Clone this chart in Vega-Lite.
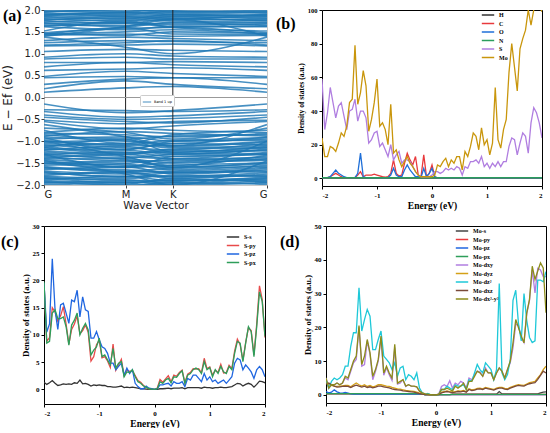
{
  "$schema": "https://vega.github.io/schema/vega-lite/v6.json",
  "padding": {"left": 0, "top": 4, "right": 2, "bottom": 0},
  "background": "white",
  "resolve": {"scale": {"color": "independent"}, "legend": {"color": "independent"}},
  "config": {
    "view": {"stroke": "black", "strokeWidth": 1},
    "axis": {
      "labelFont": "Liberation Serif", "labelFontWeight": "bold", "labelFontSize": 7, "labelColor": "black",
      "titleFont": "Liberation Serif", "titleFontWeight": "bold", "titleFontSize": 9.5, "titleColor": "black",
      "grid": false, "domain": false, "tickColor": "black", "tickSize": 3, "labelPadding": 2, "titlePadding": 2
    },
    "legend": {
      "orient": "none", "title": null, "symbolType": "M-1.6,0H1.6", "symbolStrokeWidth": 1.5, "symbolSize": 60,
      "labelFont": "Liberation Serif", "labelFontWeight": "bold", "labelFontSize": 6, "labelColor": "black",
      "labelOffset": 6, "rowPadding": 0.5, "padding": 0
    },
    "title": {"anchor": "start", "frame": "group", "font": "Liberation Serif", "fontWeight": "bold", "fontSize": 16, "color": "black"}
  },
  "datasets": {
    "kpath": [
      {"pt": "G", "k": 0}, {"pt": "M", "k": 0.577}, {"pt": "K", "k": 0.911}, {"pt": "G2", "k": 1.577}
    ],
    "bands": [
      {"b": 1, "G": 0.12, "M": 0.22, "K": 0.25, "G2": 0.12},
      {"b": 2, "G": 0.2, "M": 0.38, "K": 0.3, "G2": 0.2},
      {"b": 3, "G": 0.3, "M": 0.42, "K": 0.45, "G2": 0.3},
      {"b": 4, "G": 0.45, "M": 0.48, "K": 0.45, "G2": 0.45},
      {"b": 5, "G": 0.48, "M": 0.6, "K": 0.55, "G2": 0.48},
      {"b": 6, "G": 0.62, "M": 0.65, "K": 0.68, "G2": 0.62},
      {"b": 7, "G": 0.7, "M": 0.8, "K": 0.75, "G2": 0.7},
      {"b": 8, "G": 0.8, "M": 0.8, "K": 0.82, "G2": 0.8},
      {"b": 9, "G": 0.88, "M": 0.92, "K": 0.88, "G2": 0.88},
      {"b": 10, "G": 0.92, "M": 1.0, "K": 0.95, "G2": 0.92},
      {"b": 11, "G": 1.05, "M": 1.1, "K": 1.08, "G2": 1.05},
      {"b": 12, "G": 1.38, "M": 1.15, "K": 1.0, "G2": 1.38},
      {"b": 13, "G": 1.18, "M": 1.2, "K": 1.22, "G2": 1.18},
      {"b": 14, "G": 1.25, "M": 1.3, "K": 1.28, "G2": 1.25},
      {"b": 15, "G": 1.3, "M": 1.38, "K": 1.35, "G2": 1.3},
      {"b": 16, "G": 1.42, "M": 1.45, "K": 1.4, "G2": 1.42},
      {"b": 17, "G": 1.45, "M": 1.5, "K": 1.55, "G2": 1.45},
      {"b": 18, "G": 1.48, "M": 1.58, "K": 1.6, "G2": 1.48},
      {"b": 19, "G": 1.62, "M": 1.55, "K": 1.62, "G2": 1.62},
      {"b": 20, "G": 1.65, "M": 1.65, "K": 1.7, "G2": 1.65},
      {"b": 21, "G": 1.68, "M": 1.72, "K": 1.66, "G2": 1.68},
      {"b": 22, "G": 1.72, "M": 1.78, "K": 1.75, "G2": 1.72},
      {"b": 23, "G": 1.75, "M": 1.7, "K": 1.8, "G2": 1.75},
      {"b": 24, "G": 1.78, "M": 1.82, "K": 1.78, "G2": 1.78},
      {"b": 25, "G": 1.82, "M": 1.88, "K": 1.85, "G2": 1.82},
      {"b": 26, "G": 1.85, "M": 1.8, "K": 1.9, "G2": 1.85},
      {"b": 27, "G": 1.88, "M": 1.92, "K": 1.88, "G2": 1.88},
      {"b": 28, "G": 1.9, "M": 1.95, "K": 1.93, "G2": 1.9},
      {"b": 29, "G": 1.93, "M": 1.9, "K": 1.97, "G2": 1.93},
      {"b": 30, "G": 1.96, "M": 2.0, "K": 1.95, "G2": 1.96},
      {"b": 31, "G": 1.98, "M": 1.96, "K": 2.02, "G2": 1.98},
      {"b": 32, "G": 1.4, "M": 1.62, "K": 1.78, "G2": 1.4},
      {"b": 33, "G": 1.52, "M": 1.75, "K": 1.6, "G2": 1.52},
      {"b": 34, "G": -0.15, "M": -0.35, "K": -0.3, "G2": -0.15},
      {"b": 35, "G": -0.28, "M": -0.3, "K": -0.32, "G2": -0.28},
      {"b": 36, "G": -0.32, "M": -0.45, "K": -0.42, "G2": -0.32},
      {"b": 37, "G": -0.4, "M": -0.5, "K": -0.48, "G2": -0.4},
      {"b": 38, "G": -0.45, "M": -0.55, "K": -0.58, "G2": -0.45},
      {"b": 39, "G": -0.52, "M": -0.6, "K": -0.55, "G2": -0.52},
      {"b": 40, "G": -0.55, "M": -0.72, "K": -0.65, "G2": -0.55},
      {"b": 41, "G": -0.8, "M": -0.7, "K": -0.75, "G2": -0.8},
      {"b": 42, "G": -0.82, "M": -0.85, "K": -0.9, "G2": -0.82},
      {"b": 43, "G": -0.85, "M": -0.95, "K": -0.88, "G2": -0.85},
      {"b": 44, "G": -0.9, "M": -1.0, "K": -1.05, "G2": -0.9},
      {"b": 45, "G": -0.95, "M": -0.9, "K": -1.0, "G2": -0.95},
      {"b": 46, "G": -1.0, "M": -1.1, "K": -1.1, "G2": -1.0},
      {"b": 47, "G": -1.05, "M": -1.15, "K": -1.2, "G2": -1.05},
      {"b": 48, "G": -1.1, "M": -1.05, "K": -1.15, "G2": -1.1},
      {"b": 49, "G": -1.12, "M": -1.25, "K": -1.25, "G2": -1.12},
      {"b": 50, "G": -1.18, "M": -1.2, "K": -1.3, "G2": -1.18},
      {"b": 51, "G": -1.22, "M": -1.3, "K": -1.22, "G2": -1.22},
      {"b": 52, "G": -1.25, "M": -1.35, "K": -1.4, "G2": -1.25},
      {"b": 53, "G": -1.3, "M": -1.25, "K": -1.35, "G2": -1.3},
      {"b": 54, "G": -1.35, "M": -1.45, "K": -1.45, "G2": -1.35},
      {"b": 55, "G": -1.4, "M": -1.4, "K": -1.5, "G2": -1.4},
      {"b": 56, "G": -1.42, "M": -1.5, "K": -1.42, "G2": -1.42},
      {"b": 57, "G": -1.48, "M": -1.55, "K": -1.6, "G2": -1.48},
      {"b": 58, "G": -1.5, "M": -1.6, "K": -1.55, "G2": -1.5},
      {"b": 59, "G": -1.55, "M": -1.52, "K": -1.65, "G2": -1.55},
      {"b": 60, "G": -1.6, "M": -1.7, "K": -1.68, "G2": -1.6},
      {"b": 61, "G": -1.62, "M": -1.65, "K": -1.72, "G2": -1.62},
      {"b": 62, "G": -1.68, "M": -1.75, "K": -1.7, "G2": -1.68},
      {"b": 63, "G": -1.72, "M": -1.8, "K": -1.8, "G2": -1.72},
      {"b": 64, "G": -1.75, "M": -1.72, "K": -1.85, "G2": -1.75},
      {"b": 65, "G": -1.8, "M": -1.85, "K": -1.78, "G2": -1.8},
      {"b": 66, "G": -1.82, "M": -1.9, "K": -1.9, "G2": -1.82},
      {"b": 67, "G": -1.85, "M": -1.88, "K": -1.95, "G2": -1.85},
      {"b": 68, "G": -1.9, "M": -1.95, "K": -1.88, "G2": -1.9},
      {"b": 69, "G": -1.92, "M": -2.0, "K": -1.98, "G2": -1.92},
      {"b": 70, "G": -1.95, "M": -1.92, "K": -2.0, "G2": -1.95},
      {"b": 71, "G": -1.98, "M": -2.02, "K": -1.95, "G2": -1.98},
      {"b": 72, "G": -0.62, "M": -0.9, "K": -1.1, "G2": -0.62},
      {"b": 73, "G": -0.75, "M": -1.05, "K": -0.85, "G2": -0.75},
      {"b": 74, "G": -1.0, "M": -1.35, "K": -1.6, "G2": -1.0},
      {"b": 75, "G": -1.15, "M": -0.95, "K": -1.25, "G2": -1.15},
      {"b": 76, "G": -1.3, "M": -1.6, "K": -1.35, "G2": -1.3},
      {"b": 77, "G": -1.45, "M": -1.75, "K": -2.0, "G2": -1.45},
      {"b": 78, "G": -0.88, "M": -0.78, "K": -0.82, "G2": -0.88},
      {"b": 79, "G": -0.98, "M": -1.08, "K": -0.98, "G2": -0.98},
      {"b": 80, "G": -1.02, "M": -0.98, "K": -1.12, "G2": -1.02},
      {"b": 81, "G": -1.08, "M": -1.18, "K": -1.05, "G2": -1.08},
      {"b": 82, "G": -1.15, "M": -1.28, "K": -1.18, "G2": -1.15},
      {"b": 83, "G": -1.2, "M": -1.12, "K": -1.28, "G2": -1.2},
      {"b": 84, "G": -1.28, "M": -1.38, "K": -1.3, "G2": -1.28},
      {"b": 85, "G": -1.32, "M": -1.42, "K": -1.55, "G2": -1.32},
      {"b": 86, "G": -1.38, "M": -1.3, "K": -1.4, "G2": -1.38},
      {"b": 87, "G": -1.44, "M": -1.58, "K": -1.48, "G2": -1.44},
      {"b": 88, "G": -1.52, "M": -1.45, "K": -1.58, "G2": -1.52},
      {"b": 89, "G": -1.58, "M": -1.68, "K": -1.62, "G2": -1.58},
      {"b": 90, "G": -1.65, "M": -1.58, "K": -1.75, "G2": -1.65},
      {"b": 91, "G": -1.7, "M": -1.82, "K": -1.72, "G2": -1.7},
      {"b": 92, "G": -1.78, "M": -1.7, "K": -1.82, "G2": -1.78},
      {"b": 93, "G": -1.84, "M": -1.95, "K": -1.92, "G2": -1.84},
      {"b": 94, "G": -1.88, "M": -1.8, "K": -1.9, "G2": -1.88},
      {"b": 95, "G": -1.94, "M": -1.98, "K": -1.85, "G2": -1.94},
      {"b": 96, "G": -0.7, "M": -0.8, "K": -0.95, "G2": -0.7},
      {"b": 97, "G": -0.92, "M": -1.2, "K": -1.0, "G2": -0.92},
      {"b": 98, "G": 1.63, "M": 1.7, "K": 1.62, "G2": 1.63},
      {"b": 99, "G": 1.7, "M": 1.62, "K": 1.72, "G2": 1.7},
      {"b": 100, "G": 1.76, "M": 1.85, "K": 1.82, "G2": 1.76},
      {"b": 101, "G": 1.8, "M": 1.75, "K": 1.85, "G2": 1.8},
      {"b": 102, "G": 1.86, "M": 1.95, "K": 1.9, "G2": 1.86},
      {"b": 103, "G": 1.9, "M": 1.85, "K": 1.8, "G2": 1.9},
      {"b": 104, "G": 1.95, "M": 2.02, "K": 1.98, "G2": 1.95},
      {"b": 105, "G": 1.46, "M": 1.42, "K": 1.5, "G2": 1.46},
      {"b": 106, "G": 1.44, "M": 1.6, "K": 1.45, "G2": 1.44},
      {"b": 107, "G": 1.2, "M": 1.25, "K": 1.3, "G2": 1.2}
    ],
    "dos": [
      {"e": -2, "H": 0.2, "C": 0.5, "O": 0.5, "N": 0.4, "S": 59, "Mo": 24, "Ss": 1.3, "Spy": 19.5, "Spz": 19.5, "Spx": 19.8, "Ms": 0.3, "Mpy": 0.35, "Mpz": 1, "Mpx": 0.4, "dxy": 5, "dyz": 3.5, "dz2": 4.5, "dxz": 3.2, "dx2y2": 5},
      {"e": -1.95, "H": 0.2, "C": 0.5, "O": 0.5, "N": 0.4, "S": 29, "Mo": 13, "Ss": 0.9, "Spy": 8.8, "Spz": 10.5, "Spx": 8.5, "Ms": 0.3, "Mpy": 0.35, "Mpz": 0.6, "Mpx": 0.4, "dxy": 2, "dyz": 3.2, "dz2": 2, "dxz": 3.5, "dx2y2": 2},
      {"e": -1.9, "H": 0.2, "C": 0.5, "O": 0.5, "N": 0.4, "S": 39, "Mo": 13, "Ss": 1.2, "Spy": 9.5, "Spz": 12, "Spx": 8.8, "Ms": 0.3, "Mpy": 0.35, "Mpz": 0.8, "Mpx": 0.4, "dxy": 3, "dyz": 2.8, "dz2": 4, "dxz": 3, "dx2y2": 3},
      {"e": -1.85, "H": 0.2, "C": 1, "O": 1, "N": 0.4, "S": 54, "Mo": 19, "Ss": 1.6, "Spy": 15, "Spz": 24, "Spx": 14, "Ms": 0.3, "Mpy": 0.35, "Mpz": 1.5, "Mpx": 0.4, "dxy": 3, "dyz": 2.6, "dz2": 5, "dxz": 2.6, "dx2y2": 3},
      {"e": -1.8, "H": 0.2, "C": 2, "O": 3, "N": 0.4, "S": 45, "Mo": 18, "Ss": 1.1, "Spy": 14.2, "Spz": 14.6, "Spx": 14.6, "Ms": 0.3, "Mpy": 0.35, "Mpz": 0.9, "Mpx": 0.4, "dxy": 3.5, "dyz": 2.5, "dz2": 4.5, "dxz": 2.3, "dx2y2": 3.5},
      {"e": -1.75, "H": 0.2, "C": 3, "O": 5, "N": 0.4, "S": 36, "Mo": 16, "Ss": 0.7, "Spy": 12.5, "Spz": 11, "Spx": 13, "Ms": 0.3, "Mpy": 0.35, "Mpz": 0.6, "Mpx": 0.4, "dxy": 3, "dyz": 2.6, "dz2": 5, "dxz": 2.4, "dx2y2": 3},
      {"e": -1.7, "H": 0.2, "C": 2, "O": 3, "N": 0.4, "S": 43, "Mo": 21, "Ss": 0.8, "Spy": 13.5, "Spz": 15.5, "Spx": 13, "Ms": 0.3, "Mpy": 0.35, "Mpz": 0.5, "Mpx": 0.4, "dxy": 3.5, "dyz": 2.7, "dz2": 6, "dxz": 2.5, "dx2y2": 3.5},
      {"e": -1.65, "H": 0.2, "C": 1, "O": 2, "N": 0.4, "S": 45, "Mo": 27, "Ss": 1.0, "Spy": 15.2, "Spz": 15.8, "Spx": 13.3, "Ms": 0.3, "Mpy": 0.35, "Mpz": 0.7, "Mpx": 0.4, "dxy": 5, "dyz": 2.8, "dz2": 8.5, "dxz": 2.6, "dx2y2": 5.5},
      {"e": -1.6, "H": 0.2, "C": 0.5, "O": 1, "N": 0.4, "S": 37, "Mo": 25, "Ss": 0.9, "Spy": 12, "Spz": 14, "Spx": 11.5, "Ms": 0.3, "Mpy": 0.35, "Mpz": 0.5, "Mpx": 0.4, "dxy": 4.5, "dyz": 2.8, "dz2": 8.5, "dxz": 2.5, "dx2y2": 5},
      {"e": -1.55, "H": 0.2, "C": 0.5, "O": 0.5, "N": 0.4, "S": 29, "Mo": 31, "Ss": 1.0, "Spy": 8.3, "Spz": 12.1, "Spx": 8.1, "Ms": 0.3, "Mpy": 0.35, "Mpz": 0.3, "Mpx": 0.4, "dxy": 7, "dyz": 2.4, "dz2": 14.4, "dxz": 2.2, "dx2y2": 7.5},
      {"e": -1.5, "H": 0.2, "C": 0.5, "O": 0.5, "N": 0.4, "S": 40, "Mo": 45, "Ss": 0.9, "Spy": 11, "Spz": 16.4, "Spx": 11.8, "Ms": 0.3, "Mpy": 0.35, "Mpz": 0.2, "Mpx": 0.4, "dxy": 9.5, "dyz": 3, "dz2": 18.4, "dxz": 2.6, "dx2y2": 10},
      {"e": -1.45, "H": 0.2, "C": 0.5, "O": 0.5, "N": 0.4, "S": 41, "Mo": 47, "Ss": 1.2, "Spy": 12, "Spz": 16.1, "Spx": 12.7, "Ms": 0.3, "Mpy": 0.35, "Mpz": 0.2, "Mpx": 0.4, "dxy": 10.5, "dyz": 3.5, "dz2": 18.4, "dxz": 2.9, "dx2y2": 11.5},
      {"e": -1.4, "H": 0.2, "C": 0.5, "O": 0.5, "N": 0.4, "S": 47, "Mo": 79, "Ss": 1.1, "Spy": 13.5, "Spz": 18.2, "Spx": 14, "Ms": 0.3, "Mpy": 0.35, "Mpz": 0.2, "Mpx": 0.4, "dxy": 20, "dyz": 3, "dz2": 31.7, "dxz": 2.6, "dx2y2": 20.5},
      {"e": -1.35, "H": 0.2, "C": 2, "O": 3, "N": 0.4, "S": 34, "Mo": 44, "Ss": 1.7, "Spy": 10.2, "Spz": 13.3, "Spx": 10, "Ms": 0.3, "Mpy": 0.35, "Mpz": 0.2, "Mpx": 0.4, "dxy": 8.5, "dyz": 2.6, "dz2": 18.9, "dxz": 2.3, "dx2y2": 9},
      {"e": -1.3, "H": 0.2, "C": 4, "O": 15, "N": 0.4, "S": 40, "Mo": 51, "Ss": 1.0, "Spy": 10.8, "Spz": 17, "Spx": 11.2, "Ms": 0.3, "Mpy": 0.35, "Mpz": 0.2, "Mpx": 0.4, "dxy": 9, "dyz": 3, "dz2": 22.3, "dxz": 2.6, "dx2y2": 11.5},
      {"e": -1.25, "H": 0.2, "C": 1, "O": 1, "N": 0.4, "S": 40, "Mo": 64, "Ss": 1.1, "Spy": 11.8, "Spz": 14.6, "Spx": 12.1, "Ms": 0.3, "Mpy": 0.35, "Mpz": 0.2, "Mpx": 0.4, "dxy": 16, "dyz": 2.5, "dz2": 25.3, "dxz": 2.2, "dx2y2": 16.4},
      {"e": -1.2, "H": 0.2, "C": 2, "O": 0.5, "N": 0.4, "S": 36, "Mo": 55, "Ss": 0.9, "Spy": 10.5, "Spz": 14.3, "Spx": 10.9, "Ms": 0.3, "Mpy": 0.35, "Mpz": 0.2, "Mpx": 0.4, "dxy": 12, "dyz": 2.8, "dz2": 23.3, "dxz": 2.4, "dx2y2": 12.5},
      {"e": -1.15, "H": 0.2, "C": 2, "O": 0.5, "N": 0.4, "S": 21, "Mo": 28, "Ss": 0.6, "Spy": 5.2, "Spz": 9.4, "Spx": 6.3, "Ms": 0.3, "Mpy": 0.35, "Mpz": 0.2, "Mpx": 0.4, "dxy": 4.5, "dyz": 2.4, "dz2": 13.4, "dxz": 2.1, "dx2y2": 5.5},
      {"e": -1.1, "H": 0.2, "C": 2, "O": 0.5, "N": 0.4, "S": 23, "Mo": 35, "Ss": 0.8, "Spy": 6, "Spz": 9.4, "Spx": 7.2, "Ms": 0.3, "Mpy": 0.35, "Mpz": 0.2, "Mpx": 0.4, "dxy": 7, "dyz": 2.6, "dz2": 13.4, "dxz": 2.3, "dx2y2": 7.5},
      {"e": -1.05, "H": 0.2, "C": 2.5, "O": 0.5, "N": 0.4, "S": 27, "Mo": 45, "Ss": 0.7, "Spy": 8.2, "Spz": 10.6, "Spx": 7.8, "Ms": 0.3, "Mpy": 0.35, "Mpz": 0.2, "Mpx": 0.4, "dxy": 10, "dyz": 3, "dz2": 16.4, "dxz": 2.6, "dx2y2": 10.5},
      {"e": -1, "H": 0.2, "C": 2, "O": 0.5, "N": 0.4, "S": 28, "Mo": 59, "Ss": 0.8, "Spy": 9, "Spz": 9.1, "Spx": 9.4, "Ms": 0.3, "Mpy": 0.35, "Mpz": 0.2, "Mpx": 0.4, "dxy": 17, "dyz": 3, "dz2": 18.9, "dxz": 2.6, "dx2y2": 17.4},
      {"e": -0.95, "H": 0.2, "C": 1.5, "O": 0.5, "N": 0.4, "S": 19, "Mo": 31, "Ss": 0.7, "Spy": 5.8, "Spz": 7.8, "Spx": 6, "Ms": 0.3, "Mpy": 0.35, "Mpz": 0.2, "Mpx": 0.4, "dxy": 5.8, "dyz": 2.8, "dz2": 11.5, "dxz": 2.4, "dx2y2": 6.5},
      {"e": -0.9, "H": 0.2, "C": 1, "O": 0.5, "N": 0.4, "S": 21, "Mo": 33, "Ss": 0.7, "Spy": 6, "Spz": 7.5, "Spx": 6.3, "Ms": 0.3, "Mpy": 0.35, "Mpz": 0.2, "Mpx": 0.4, "dxy": 8, "dyz": 2.6, "dz2": 10.5, "dxz": 2.2, "dx2y2": 8.5},
      {"e": -0.85, "H": 0.2, "C": 0.8, "O": 0.5, "N": 0.4, "S": 17, "Mo": 29, "Ss": 0.5, "Spy": 5.2, "Spz": 6.6, "Spx": 5.4, "Ms": 0.3, "Mpy": 0.35, "Mpz": 0.2, "Mpx": 0.4, "dxy": 6, "dyz": 2.5, "dz2": 9.5, "dxz": 2.1, "dx2y2": 6.5},
      {"e": -0.8, "H": 0.2, "C": 1, "O": 0.5, "N": 0.4, "S": 13, "Mo": 20, "Ss": 0.5, "Spy": 4, "Spz": 4.8, "Spx": 4.5, "Ms": 0.3, "Mpy": 0.35, "Mpz": 0.2, "Mpx": 0.4, "dxy": 4.3, "dyz": 2.2, "dz2": 7.5, "dxz": 1.8, "dx2y2": 5},
      {"e": -0.75, "H": 0.2, "C": 3, "O": 2, "N": 0.4, "S": 20, "Mo": 44, "Ss": 0.4, "Spy": 8.3, "Spz": 4.8, "Spx": 7.5, "Ms": 0.3, "Mpy": 0.35, "Mpz": 0.2, "Mpx": 0.4, "dxy": 14, "dyz": 2, "dz2": 9.5, "dxz": 1.6, "dx2y2": 15},
      {"e": -0.7, "H": 0.2, "C": 11, "O": 6, "N": 0.4, "S": 11, "Mo": 15, "Ss": 0.4, "Spy": 3.5, "Spz": 3.6, "Spx": 3.9, "Ms": 0.3, "Mpy": 0.35, "Mpz": 0.2, "Mpx": 0.4, "dxy": 3.2, "dyz": 1.8, "dz2": 5.5, "dxz": 1.5, "dx2y2": 3.5},
      {"e": -0.65, "H": 0.2, "C": 3, "O": 2, "N": 0.4, "S": 14, "Mo": 17, "Ss": 0.5, "Spy": 4.5, "Spz": 4.2, "Spx": 4.8, "Ms": 0.3, "Mpy": 0.35, "Mpz": 0.2, "Mpx": 0.4, "dxy": 3.5, "dyz": 1.7, "dz2": 8, "dxz": 1.4, "dx2y2": 4},
      {"e": -0.6, "H": 0.2, "C": 1.5, "O": 1, "N": 0.4, "S": 16, "Mo": 11, "Ss": 0.6, "Spy": 5.5, "Spz": 4.8, "Spx": 5.1, "Ms": 0.3, "Mpy": 0.35, "Mpz": 0.2, "Mpx": 0.4, "dxy": 4.5, "dyz": 1.5, "dz2": 8.5, "dxz": 1.2, "dx2y2": 4.5},
      {"e": -0.55, "H": 0.2, "C": 2, "O": 1, "N": 0.4, "S": 9, "Mo": 7, "Ss": 0.3, "Spy": 2.5, "Spz": 2.6, "Spx": 2.3, "Ms": 0.3, "Mpy": 0.35, "Mpz": 0.2, "Mpx": 0.4, "dxy": 2.5, "dyz": 1.3, "dz2": 4.5, "dxz": 1.1, "dx2y2": 2.6},
      {"e": -0.5, "H": 0.2, "C": 9, "O": 5, "N": 0.4, "S": 11, "Mo": 10, "Ss": 0.4, "Spy": 3.5, "Spz": 3.9, "Spx": 3.2, "Ms": 0.3, "Mpy": 0.35, "Mpz": 0.2, "Mpx": 0.4, "dxy": 3, "dyz": 1.2, "dz2": 6, "dxz": 1, "dx2y2": 3},
      {"e": -0.45, "H": 0.2, "C": 15, "O": 8, "N": 0.4, "S": 11, "Mo": 13, "Ss": 0.3, "Spy": 3.3, "Spz": 2.9, "Spx": 3.1, "Ms": 0.3, "Mpy": 0.35, "Mpz": 0.2, "Mpx": 0.4, "dxy": 2.6, "dyz": 1.1, "dz2": 5.5, "dxz": 0.9, "dx2y2": 2.6},
      {"e": -0.4, "H": 0.2, "C": 11, "O": 5, "N": 0.4, "S": 10, "Mo": 9, "Ss": 0.4, "Spy": 3.4, "Spz": 3.6, "Spx": 3.6, "Ms": 0.3, "Mpy": 0.35, "Mpz": 0.2, "Mpx": 0.4, "dxy": 2.5, "dyz": 1, "dz2": 4.5, "dxz": 0.8, "dx2y2": 2.6},
      {"e": -0.35, "H": 0.2, "C": 8, "O": 3, "N": 0.4, "S": 7, "Mo": 7, "Ss": 0.3, "Spy": 2.5, "Spz": 1.1, "Spx": 2.3, "Ms": 0.3, "Mpy": 0.35, "Mpz": 0.2, "Mpx": 0.4, "dxy": 2.4, "dyz": 0.8, "dz2": 6.5, "dxz": 0.6, "dx2y2": 2.4},
      {"e": -0.3, "H": 0.2, "C": 13, "O": 1, "N": 0.4, "S": 4, "Mo": 4, "Ss": 0.2, "Spy": 1.6, "Spz": 0.5, "Spx": 1.4, "Ms": 0.3, "Mpy": 0.35, "Mpz": 0.2, "Mpx": 0.4, "dxy": 1.1, "dyz": 0.5, "dz2": 2, "dxz": 0.4, "dx2y2": 1.1},
      {"e": -0.25, "H": 0.2, "C": 2, "O": 1, "N": 0.4, "S": 2, "Mo": 2, "Ss": 0.1, "Spy": 1.3, "Spz": 0.1, "Spx": 1.1, "Ms": 0.3, "Mpy": 0.35, "Mpz": 0.2, "Mpx": 0.4, "dxy": 0.6, "dyz": 0.3, "dz2": 0.6, "dxz": 0.2, "dx2y2": 0.6},
      {"e": -0.2, "H": 0.2, "C": 1, "O": 0.5, "N": 0.4, "S": 1, "Mo": 1, "Ss": 0.1, "Spy": 0.7, "Spz": 0.1, "Spx": 0.6, "Ms": 0.05, "Mpy": 0.05, "Mpz": 0.05, "Mpx": 0.05, "dxy": 0.3, "dyz": 0.2, "dz2": 0.1, "dxz": 0.1, "dx2y2": 0.3},
      {"e": -0.15, "H": 0.2, "C": 14, "O": 6, "N": 0.4, "S": 1, "Mo": 1, "Ss": 0.05, "Spy": 0.4, "Spz": 0.6, "Spx": 0.4, "Ms": 0.05, "Mpy": 0.05, "Mpz": 0.05, "Mpx": 0.05, "dxy": 0.2, "dyz": 0.1, "dz2": 0.4, "dxz": 0.1, "dx2y2": 0.2},
      {"e": -0.1, "H": 0.2, "C": 1, "O": 1, "N": 0.4, "S": 1, "Mo": 1, "Ss": 0, "Spy": 0.1, "Spz": 0.2, "Spx": 0.1, "Ms": 0.05, "Mpy": 0.05, "Mpz": 0.05, "Mpx": 0.05, "dxy": 0.1, "dyz": 0, "dz2": 0.1, "dxz": 0, "dx2y2": 0.1},
      {"e": -0.05, "H": 0.2, "C": 3, "O": 3, "N": 0.4, "S": 1, "Mo": 1, "Ss": 0, "Spy": 0.05, "Spz": 0.1, "Spx": 0.05, "Ms": 0.05, "Mpy": 0.05, "Mpz": 0.05, "Mpx": 0.05, "dxy": 0, "dyz": 0, "dz2": 0, "dxz": 0, "dx2y2": 0},
      {"e": 0, "H": 0.2, "C": 8, "O": 6, "N": 0.4, "S": 2, "Mo": 1, "Ss": 0, "Spy": 0, "Spz": 0, "Spx": 0, "Ms": 0.05, "Mpy": 0.05, "Mpz": 0.05, "Mpx": 0.05, "dxy": 0, "dyz": 0, "dz2": 0, "dxz": 0, "dx2y2": 0},
      {"e": 0.05, "H": 0.2, "C": 1, "O": 1, "N": 0.4, "S": 4, "Mo": 2, "Ss": 0, "Spy": 0.2, "Spz": 0.1, "Spx": 0.1, "Ms": 0.05, "Mpy": 0.05, "Mpz": 0.05, "Mpx": 0.05, "dxy": 0.3, "dyz": 0.1, "dz2": 0.1, "dxz": 0.1, "dx2y2": 0.2},
      {"e": 0.1, "H": 0.2, "C": 0.3, "O": 0.3, "N": 0.4, "S": 4, "Mo": 8, "Ss": 0.1, "Spy": 1.8, "Spz": 0.8, "Spx": 1.4, "Ms": 0.05, "Mpy": 0.05, "Mpz": 0.05, "Mpx": 0.05, "dxy": 2.5, "dyz": 0.8, "dz2": 1.6, "dxz": 0.6, "dx2y2": 1.6},
      {"e": 0.15, "H": 0.2, "C": 0.3, "O": 0.3, "N": 0.4, "S": 3, "Mo": 7, "Ss": 0.1, "Spy": 1.3, "Spz": 0.8, "Spx": 1.1, "Ms": 0.05, "Mpy": 0.05, "Mpz": 0.05, "Mpx": 0.05, "dxy": 3, "dyz": 1, "dz2": 1.6, "dxz": 0.8, "dx2y2": 1.6},
      {"e": 0.2, "H": 0.2, "C": 0.3, "O": 0.3, "N": 0.4, "S": 4, "Mo": 10, "Ss": 0.15, "Spy": 1.9, "Spz": 1, "Spx": 1.7, "Ms": 0.05, "Mpy": 0.05, "Mpz": 0.05, "Mpx": 0.05, "dxy": 2.5, "dyz": 1.2, "dz2": 2.6, "dxz": 1, "dx2y2": 2},
      {"e": 0.25, "H": 0.2, "C": 0.3, "O": 0.3, "N": 0.4, "S": 6, "Mo": 12, "Ss": 0.2, "Spy": 2.5, "Spz": 1.1, "Spx": 2, "Ms": 0.05, "Mpy": 0.05, "Mpz": 0.05, "Mpx": 0.05, "dxy": 4.2, "dyz": 1, "dz2": 2, "dxz": 0.8, "dx2y2": 1.6},
      {"e": 0.3, "H": 0.2, "C": 0.3, "O": 0.3, "N": 0.4, "S": 5, "Mo": 7, "Ss": 0.1, "Spy": 1.4, "Spz": 0.6, "Spx": 1.2, "Ms": 0.2, "Mpy": 0.12, "Mpz": 0.1, "Mpx": 0.15, "dxy": 2, "dyz": 0.8, "dz2": 1.6, "dxz": 0.7, "dx2y2": 1.1},
      {"e": 0.35, "H": 0.2, "C": 0.3, "O": 0.3, "N": 0.4, "S": 6, "Mo": 11, "Ss": 0.2, "Spy": 2.6, "Spz": 1.4, "Spx": 2.3, "Ms": 0.2, "Mpy": 0.12, "Mpz": 0.1, "Mpx": 0.15, "dxy": 3.5, "dyz": 1, "dz2": 3, "dxz": 0.8, "dx2y2": 2.6},
      {"e": 0.4, "H": 0.2, "C": 0.3, "O": 0.3, "N": 0.4, "S": 5, "Mo": 9, "Ss": 0.2, "Spy": 2.4, "Spz": 1.1, "Spx": 2.2, "Ms": 0.2, "Mpy": 0.12, "Mpz": 0.1, "Mpx": 0.15, "dxy": 3, "dyz": 1.2, "dz2": 2.6, "dxz": 1, "dx2y2": 2},
      {"e": 0.45, "H": 0.2, "C": 0.3, "O": 0.3, "N": 0.4, "S": 7, "Mo": 13, "Ss": 0.2, "Spy": 3.1, "Spz": 1.1, "Spx": 2.9, "Ms": 0.2, "Mpy": 0.12, "Mpz": 0.1, "Mpx": 0.15, "dxy": 4, "dyz": 1.1, "dz2": 2.6, "dxz": 0.9, "dx2y2": 2.6},
      {"e": 0.5, "H": 0.2, "C": 0.3, "O": 0.3, "N": 0.4, "S": 6, "Mo": 13, "Ss": 0.3, "Spy": 3.5, "Spz": 1.4, "Spx": 3.4, "Ms": 0.2, "Mpy": 0.12, "Mpz": 0.1, "Mpx": 0.15, "dxy": 3.5, "dyz": 1.3, "dz2": 3, "dxz": 1.1, "dx2y2": 3.5},
      {"e": 0.55, "H": 0.2, "C": 0.3, "O": 0.3, "N": 0.4, "S": 2, "Mo": 5, "Ss": 0.1, "Spy": 1.2, "Spz": 0.5, "Spx": 1.1, "Ms": 0.2, "Mpy": 0.12, "Mpz": 0.1, "Mpx": 0.15, "dxy": 2, "dyz": 1, "dz2": 1.6, "dxz": 0.8, "dx2y2": 1.6},
      {"e": 0.6, "H": 0.2, "C": 0.3, "O": 0.3, "N": 0.4, "S": 7, "Mo": 16, "Ss": 0.3, "Spy": 2.8, "Spz": 2, "Spx": 2.6, "Ms": 0.2, "Mpy": 0.12, "Mpz": 0.1, "Mpx": 0.15, "dxy": 5, "dyz": 1.8, "dz2": 4.5, "dxz": 1.6, "dx2y2": 4},
      {"e": 0.65, "H": 0.2, "C": 0.3, "O": 0.3, "N": 0.4, "S": 6, "Mo": 13, "Ss": 0.3, "Spy": 3.1, "Spz": 1.7, "Spx": 2.9, "Ms": 0.2, "Mpy": 0.12, "Mpz": 0.1, "Mpx": 0.15, "dxy": 4.5, "dyz": 1.5, "dz2": 4, "dxz": 1.3, "dx2y2": 4},
      {"e": 0.7, "H": 0.2, "C": 0.3, "O": 0.3, "N": 0.4, "S": 10, "Mo": 19, "Ss": 0.3, "Spy": 3.8, "Spz": 2.6, "Spx": 3.6, "Ms": 0.2, "Mpy": 0.12, "Mpz": 0.1, "Mpx": 0.15, "dxy": 6, "dyz": 1.6, "dz2": 6.5, "dxz": 1.4, "dx2y2": 5.5},
      {"e": 0.75, "H": 0.2, "C": 0.3, "O": 0.3, "N": 0.4, "S": 10, "Mo": 27, "Ss": 0.3, "Spy": 3.7, "Spz": 2.6, "Spx": 3.9, "Ms": 0.2, "Mpy": 0.12, "Mpz": 0.1, "Mpx": 0.15, "dxy": 7, "dyz": 1.9, "dz2": 9, "dxz": 1.7, "dx2y2": 7},
      {"e": 0.8, "H": 0.2, "C": 0.3, "O": 0.3, "N": 0.4, "S": 11, "Mo": 25, "Ss": 0.3, "Spy": 3.8, "Spz": 2, "Spx": 3.6, "Ms": 0.2, "Mpy": 0.12, "Mpz": 0.1, "Mpx": 0.15, "dxy": 6.8, "dyz": 2, "dz2": 7.5, "dxz": 1.8, "dx2y2": 6.5},
      {"e": 0.85, "H": 0.2, "C": 0.3, "O": 0.3, "N": 0.4, "S": 9, "Mo": 17, "Ss": 0.2, "Spy": 3, "Spz": 1.4, "Spx": 2.9, "Ms": 0.2, "Mpy": 0.12, "Mpz": 0.1, "Mpx": 0.15, "dxy": 5.5, "dyz": 1.8, "dz2": 6.5, "dxz": 1.6, "dx2y2": 5.5},
      {"e": 0.9, "H": 0.2, "C": 0.3, "O": 0.3, "N": 0.4, "S": 13, "Mo": 30, "Ss": 0.4, "Spy": 5.7, "Spz": 2.9, "Spx": 5.1, "Ms": 0.2, "Mpy": 0.12, "Mpz": 0.1, "Mpx": 0.15, "dxy": 8, "dyz": 2.2, "dz2": 9.5, "dxz": 2, "dx2y2": 7.5},
      {"e": 0.95, "H": 0.2, "C": 0.3, "O": 0.3, "N": 0.4, "S": 7, "Mo": 20, "Ss": 0.3, "Spy": 3.8, "Spz": 1.7, "Spx": 3.6, "Ms": 0.2, "Mpy": 0.12, "Mpz": 0.1, "Mpx": 0.15, "dxy": 6.5, "dyz": 2, "dz2": 8.5, "dxz": 1.8, "dx2y2": 6.5},
      {"e": 1, "H": 0.2, "C": 0.3, "O": 0.3, "N": 0.4, "S": 9, "Mo": 23, "Ss": 0.3, "Spy": 4.1, "Spz": 2.3, "Spx": 4, "Ms": 0.2, "Mpy": 0.12, "Mpz": 0.1, "Mpx": 0.15, "dxy": 6.5, "dyz": 1.8, "dz2": 7.5, "dxz": 1.6, "dx2y2": 6.5},
      {"e": 1.05, "H": 0.2, "C": 0.3, "O": 0.3, "N": 0.4, "S": 6, "Mo": 14, "Ss": 0.2, "Spy": 2.6, "Spz": 1.4, "Spx": 2.3, "Ms": 0.2, "Mpy": 0.12, "Mpz": 0.1, "Mpx": 0.15, "dxy": 4.5, "dyz": 1.6, "dz2": 4.5, "dxz": 1.4, "dx2y2": 4.5},
      {"e": 1.1, "H": 0.2, "C": 0.3, "O": 0.3, "N": 0.4, "S": 9, "Mo": 21, "Ss": 0.3, "Spy": 3.5, "Spz": 1.7, "Spx": 3.6, "Ms": 0.2, "Mpy": 0.12, "Mpz": 0.1, "Mpx": 0.15, "dxy": 6.5, "dyz": 2, "dz2": 7.5, "dxz": 1.8, "dx2y2": 6.5},
      {"e": 1.15, "H": 0.2, "C": 0.3, "O": 0.3, "N": 0.4, "S": 7, "Mo": 54, "Ss": 0.3, "Spy": 3.1, "Spz": 1.1, "Spx": 2.9, "Ms": 1.0, "Mpy": 0.12, "Mpz": 0.1, "Mpx": 0.15, "dxy": 8, "dyz": 2.2, "dz2": 33, "dxz": 2, "dx2y2": 8},
      {"e": 1.2, "H": 0.2, "C": 0.3, "O": 0.3, "N": 0.4, "S": 10, "Mo": 23, "Ss": 0.4, "Spy": 4.6, "Spz": 1.4, "Spx": 4.2, "Ms": 0.3, "Mpy": 0.12, "Mpz": 0.1, "Mpx": 0.15, "dxy": 7, "dyz": 2.2, "dz2": 6.5, "dxz": 2, "dx2y2": 7},
      {"e": 1.25, "H": 0.2, "C": 0.3, "O": 0.3, "N": 0.4, "S": 7, "Mo": 18, "Ss": 0.3, "Spy": 3, "Spz": 1.7, "Spx": 3.2, "Ms": 0.3, "Mpy": 0.12, "Mpz": 0.1, "Mpx": 0.15, "dxy": 5, "dyz": 1.9, "dz2": 4.5, "dxz": 1.7, "dx2y2": 5},
      {"e": 1.3, "H": 0.2, "C": 0.3, "O": 0.3, "N": 0.4, "S": 10, "Mo": 29, "Ss": 0.3, "Spy": 3.1, "Spz": 1.1, "Spx": 2.9, "Ms": 0.3, "Mpy": 0.12, "Mpz": 0.1, "Mpx": 0.15, "dxy": 7.5, "dyz": 1.8, "dz2": 6, "dxz": 1.6, "dx2y2": 7.5},
      {"e": 1.35, "H": 0.2, "C": 0.3, "O": 0.3, "N": 0.4, "S": 10, "Mo": 35, "Ss": 0.4, "Spy": 4.4, "Spz": 1.7, "Spx": 4.2, "Ms": 0.3, "Mpy": 0.12, "Mpz": 0.1, "Mpx": 0.15, "dxy": 9.5, "dyz": 2.2, "dz2": 10.5, "dxz": 2, "dx2y2": 10},
      {"e": 1.4, "H": 0.2, "C": 0.3, "O": 0.3, "N": 0.4, "S": 19, "Mo": 63, "Ss": 0.5, "Spy": 3.8, "Spz": 2.3, "Spx": 3.6, "Ms": 0.3, "Mpy": 0.12, "Mpz": 0.1, "Mpx": 0.15, "dxy": 14, "dyz": 2.5, "dz2": 28, "dxz": 2.3, "dx2y2": 15.4},
      {"e": 1.45, "H": 0.2, "C": 0.3, "O": 0.3, "N": 0.4, "S": 24, "Mo": 80, "Ss": 0.8, "Spy": 7, "Spz": 4.8, "Spx": 6.6, "Ms": 0.3, "Mpy": 0.12, "Mpz": 0.1, "Mpx": 0.15, "dxy": 21, "dyz": 2.8, "dz2": 31, "dxz": 2.6, "dx2y2": 22.3},
      {"e": 1.5, "H": 0.2, "C": 0.3, "O": 0.3, "N": 0.4, "S": 23, "Mo": 66, "Ss": 1.1, "Spy": 9.2, "Spz": 5.7, "Spx": 8.8, "Ms": 0.3, "Mpy": 0.12, "Mpz": 0.1, "Mpx": 0.15, "dxy": 20.5, "dyz": 3, "dz2": 21, "dxz": 2.8, "dx2y2": 19.9},
      {"e": 1.55, "H": 0.2, "C": 0.3, "O": 0.3, "N": 0.4, "S": 14, "Mo": 52, "Ss": 1.0, "Spy": 8.2, "Spz": 5.4, "Spx": 8.5, "Ms": 0.3, "Mpy": 0.12, "Mpz": 0.1, "Mpx": 0.15, "dxy": 17, "dyz": 2.9, "dz2": 16, "dxz": 2.7, "dx2y2": 17.4},
      {"e": 1.6, "H": 0.2, "C": 0.3, "O": 0.3, "N": 0.4, "S": 21, "Mo": 77, "Ss": 0.6, "Spy": 5.3, "Spz": 3.6, "Spx": 5.1, "Ms": 0.3, "Mpy": 0.12, "Mpz": 0.1, "Mpx": 0.15, "dxy": 15.5, "dyz": 2.8, "dz2": 30, "dxz": 2.6, "dx2y2": 15.4},
      {"e": 1.65, "H": 0.2, "C": 0.3, "O": 0.3, "N": 0.4, "S": 27, "Mo": 83, "Ss": 0.9, "Spy": 8.6, "Spz": 4.5, "Spx": 8.5, "Ms": 0.3, "Mpy": 0.12, "Mpz": 0.1, "Mpx": 0.15, "dxy": 24, "dyz": 3.2, "dz2": 22, "dxz": 3, "dx2y2": 24.3},
      {"e": 1.7, "H": 0.2, "C": 0.3, "O": 0.3, "N": 0.4, "S": 25, "Mo": 88, "Ss": 1.1, "Spy": 11.3, "Spz": 3.9, "Spx": 11.5, "Ms": 0.3, "Mpy": 0.12, "Mpz": 0.1, "Mpx": 0.15, "dxy": 28, "dyz": 3.6, "dz2": 17, "dxz": 3.3, "dx2y2": 28.3},
      {"e": 1.75, "H": 0.2, "C": 0.3, "O": 0.3, "N": 0.4, "S": 15, "Mo": 100, "Ss": 0.9, "Spy": 10.8, "Spz": 3.2, "Spx": 10.6, "Ms": 0.3, "Mpy": 0.12, "Mpz": 0.1, "Mpx": 0.15, "dxy": 37, "dyz": 3.8, "dz2": 15.5, "dxz": 3.5, "dx2y2": 38.1},
      {"e": 1.8, "H": 0.2, "C": 0.3, "O": 0.3, "N": 0.4, "S": 33, "Mo": 91, "Ss": 0.4, "Spy": 6.3, "Spz": 2, "Spx": 6, "Ms": 0.3, "Mpy": 0.12, "Mpz": 0.1, "Mpx": 0.15, "dxy": 30.2, "dyz": 4, "dz2": 16, "dxz": 3.6, "dx2y2": 34.2},
      {"e": 1.85, "H": 0.2, "C": 0.3, "O": 0.3, "N": 0.4, "S": 42, "Mo": 100, "Ss": 0.9, "Spy": 12, "Spz": 3.6, "Spx": 11.5, "Ms": 0.3, "Mpy": 0.12, "Mpz": 0.1, "Mpx": 0.15, "dxy": 37.5, "dyz": 5, "dz2": 34, "dxz": 4.6, "dx2y2": 36.7},
      {"e": 1.9, "H": 0.2, "C": 0.3, "O": 0.3, "N": 0.4, "S": 39, "Mo": 105, "Ss": 1.5, "Spy": 19, "Spz": 4.2, "Spx": 17.9, "Ms": 0.6, "Mpy": 0.12, "Mpz": 0.1, "Mpx": 0.15, "dxy": 37, "dyz": 6, "dz2": 34, "dxz": 5.8, "dx2y2": 39.1},
      {"e": 1.95, "H": 0.2, "C": 0.3, "O": 0.3, "N": 0.4, "S": 33, "Mo": 102, "Ss": 1.4, "Spy": 16.5, "Spz": 3.6, "Spx": 16.1, "Ms": 0.8, "Mpy": 0.12, "Mpz": 0.1, "Mpx": 0.15, "dxy": 35, "dyz": 7.5, "dz2": 33.5, "dxz": 7, "dx2y2": 37.6},
      {"e": 2, "H": 0.2, "C": 0.3, "O": 0.3, "N": 0.4, "S": 24, "Mo": 99, "Ss": 1.2, "Spy": 9.5, "Spz": 2.3, "Spx": 9.7, "Ms": 0.9, "Mpy": 0.12, "Mpz": 0.1, "Mpx": 0.15, "dxy": 35, "dyz": 8.5, "dz2": 36.5, "dxz": 6.5, "dx2y2": 24.3}
    ]
  },
  "vconcat": [
    {
      "resolve": {"scale": {"color": "independent"}, "legend": {"color": "independent"}},
      "hconcat": [
        {
          "width": 223,
          "height": 175,
          "title": {"text": "(a)", "dx": -41, "offset": -19},
          "view": {"stroke": "#c8c8c8"},
          "encoding": {
            "x": {
              "type": "quantitative",
              "scale": {"domain": [0, 1.577], "nice": false, "zero": false},
              "axis": {
                "values": [0, 0.577, 0.911, 1.577],
                "labelExpr": "datum.value < 0.3 ? 'G' : datum.value < 0.7 ? 'M' : datum.value < 1.2 ? 'K' : 'G'",
                "title": "Wave Vector", "labelFont": "DejaVu Sans", "labelFontWeight": "normal", "labelFontSize": 10,
                "titleFont": "DejaVu Sans", "titleFontWeight": "normal", "titleFontSize": 10.5, "labelColor": "#222", "titleColor": "#222",
                "tickColor": "#444", "labelPadding": 1, "titlePadding": 1
              }
            },
            "y": {
              "type": "quantitative",
              "scale": {"domain": [-2, 2], "nice": false, "zero": false},
              "axis": {
                "values": [-2, -1.5, -1, -0.5, 0, 0.5, 1, 1.5, 2], "format": ".1f",
                "title": "E  −  Ef (eV)", "labelFont": "DejaVu Sans", "labelFontWeight": "normal", "labelFontSize": 10,
                "titleFont": "DejaVu Sans", "titleFontWeight": "normal", "titleFontSize": 12, "labelColor": "#222", "titleColor": "#222",
                "tickColor": "#444", "labelPadding": 1, "titlePadding": 1
              }
            }
          },
          "layer": [
            {
              "data": {"name": "bands"},
              "transform": [
                {"fold": ["G", "M", "K", "G2"], "as": ["pt", "E"]},
                {"lookup": "pt", "from": {"data": {"name": "kpath"}, "key": "pt", "fields": ["k"]}}
              ],
              "mark": {"type": "line", "strokeWidth": 1.6, "opacity": 0.82, "interpolate": "monotone", "clip": true},
              "encoding": {
                "x": {"field": "k", "type": "quantitative"},
                "y": {"field": "E", "type": "quantitative"},
                "detail": {"field": "b", "type": "nominal"},
                "color": {"datum": "Band 1 up", "scale": {"range": ["#1f77b4"]},
                  "legend": {"legendX": 96, "legendY": 85, "symbolType": "stroke", "symbolSize": 70, "symbolStrokeWidth": 1,
                    "labelFont": "DejaVu Sans", "labelFontWeight": "normal", "labelFontSize": 3.5, "labelOffset": 2,
                    "padding": 2, "fillColor": "white", "strokeColor": "#cccccc", "cornerRadius": 1}}
              }
            },
            {
              "data": {"values": [{"k": 0.577}, {"k": 0.911}]},
              "mark": {"type": "rule", "color": "#222", "strokeWidth": 1},
              "encoding": {"x": {"field": "k", "type": "quantitative"}}
            },
            {
              "data": {"values": [{"E": 0}]},
              "mark": {"type": "rule", "color": "#999", "strokeWidth": 1},
              "encoding": {"y": {"field": "E", "type": "quantitative"}}
            }
          ]
        },
        {
          "width": 220,
          "height": 176,
          "title": {"text": "(b)", "dx": -46, "offset": -25},
          "data": {"name": "dos"},
          "transform": [{"fold": ["H", "C", "O", "N", "S", "Mo"], "as": ["k", "v"]}],
          "mark": {"type": "line", "strokeWidth": 1.3, "clip": true},
          "encoding": {
            "x": {"field": "e", "type": "quantitative", "scale": {"domain": [-2, 2], "nice": false},
              "axis": {"values": [-2, -1, 0, 1, 2], "labelExpr": "'' + datum.value", "title": "Energy (eV)"}},
            "y": {"field": "v", "type": "quantitative", "scale": {"domain": [-4.5, 100], "nice": false, "zero": false},
              "axis": {"values": [0, 20, 40, 60, 80, 100], "title": "Density of states (a.u.)", "titleFontSize": 7.5, "labelFontSize": 6.5}},
            "color": {"field": "k", "type": "nominal",
              "scale": {"domain": ["H", "C", "O", "N", "S", "Mo"], "range": ["#333333", "#e8393c", "#1f6fd8", "#2a9d5c", "#b07ee0", "#c9960c"]},
              "legend": {"legendX": 161, "legendY": 0}}
          }
        }
      ],
      "spacing": 7
    },
    {
      "resolve": {"scale": {"color": "independent"}, "legend": {"color": "independent"}},
      "hconcat": [
        {
          "width": 221,
          "height": 178,
          "title": {"text": "(c)", "dx": -43, "offset": -28},
          "data": {"name": "dos"},
          "transform": [{"fold": ["Ss", "Spy", "Spz", "Spx"], "as": ["k", "v"]}],
          "mark": {"type": "line", "strokeWidth": 1.3, "clip": true},
          "encoding": {
            "x": {"field": "e", "type": "quantitative", "scale": {"domain": [-2, 2], "nice": false},
              "axis": {"values": [-2, -1, 0, 1, 2], "labelExpr": "'' + datum.value", "title": "Energy (eV)"}},
            "y": {"field": "v", "type": "quantitative", "scale": {"domain": [-2.7, 30], "nice": false, "zero": false},
              "axis": {"values": [0, 5, 10, 15, 20, 25, 30], "title": "Density of states (a.u.)", "titleFontSize": 8.8}},
            "color": {"field": "k", "type": "nominal",
              "scale": {"domain": ["Ss", "Spy", "Spz", "Spx"], "range": ["#333333", "#e84a4a", "#1f66e0", "#2e9e5a"]},
              "legend": {"legendX": 184, "legendY": 6, "labelExpr": "'S-' + substring(datum.label, 1)"}}
          }
        },
        {
          "width": 220,
          "height": 177,
          "title": {"text": "(d)", "dx": -46, "offset": -28},
          "data": {"name": "dos"},
          "transform": [{"fold": ["Ms", "Mpy", "Mpz", "Mpx", "dxy", "dyz", "dz2", "dxz", "dx2y2"], "as": ["k", "v"]}],
          "mark": {"type": "line", "strokeWidth": 1.3, "clip": true},
          "encoding": {
            "x": {"field": "e", "type": "quantitative", "scale": {"domain": [-2, 2], "nice": false},
              "axis": {"values": [-2, -1, 0, 1, 2], "labelExpr": "'' + datum.value", "title": "Energy (eV)"}},
            "y": {"field": "v", "type": "quantitative", "scale": {"domain": [-2.4, 50], "nice": false, "zero": false},
              "axis": {"values": [0, 10, 20, 30, 40, 50], "title": "Density of states (a.u.)", "titleFontSize": 8.5}},
            "color": {"field": "k", "type": "nominal",
              "scale": {"domain": ["Ms", "Mpy", "Mpz", "Mpx", "dxy", "dyz", "dz2", "dxz", "dx2y2"],
                "range": ["#444444", "#e8393c", "#1f66e0", "#2e9e5a", "#b07ee0", "#d4a017", "#1ec8d8", "#7a4a3a", "#8c8c1a"]},
              "legend": {"legendX": 131, "legendY": 0, "labelExpr": "datum.label == 'Ms' ? 'Mo-s' : datum.label == 'Mpy' ? 'Mo-py' : datum.label == 'Mpz' ? 'Mo-pz' : datum.label == 'Mpx' ? 'Mo-px' : datum.label == 'dz2' ? 'Mo-dz²' : datum.label == 'dx2y2' ? 'Mo-dx²-y²' : 'Mo-' + datum.label"}}
          }
        }
      ],
      "spacing": 13
    }
  ],
  "spacing": 10
}
